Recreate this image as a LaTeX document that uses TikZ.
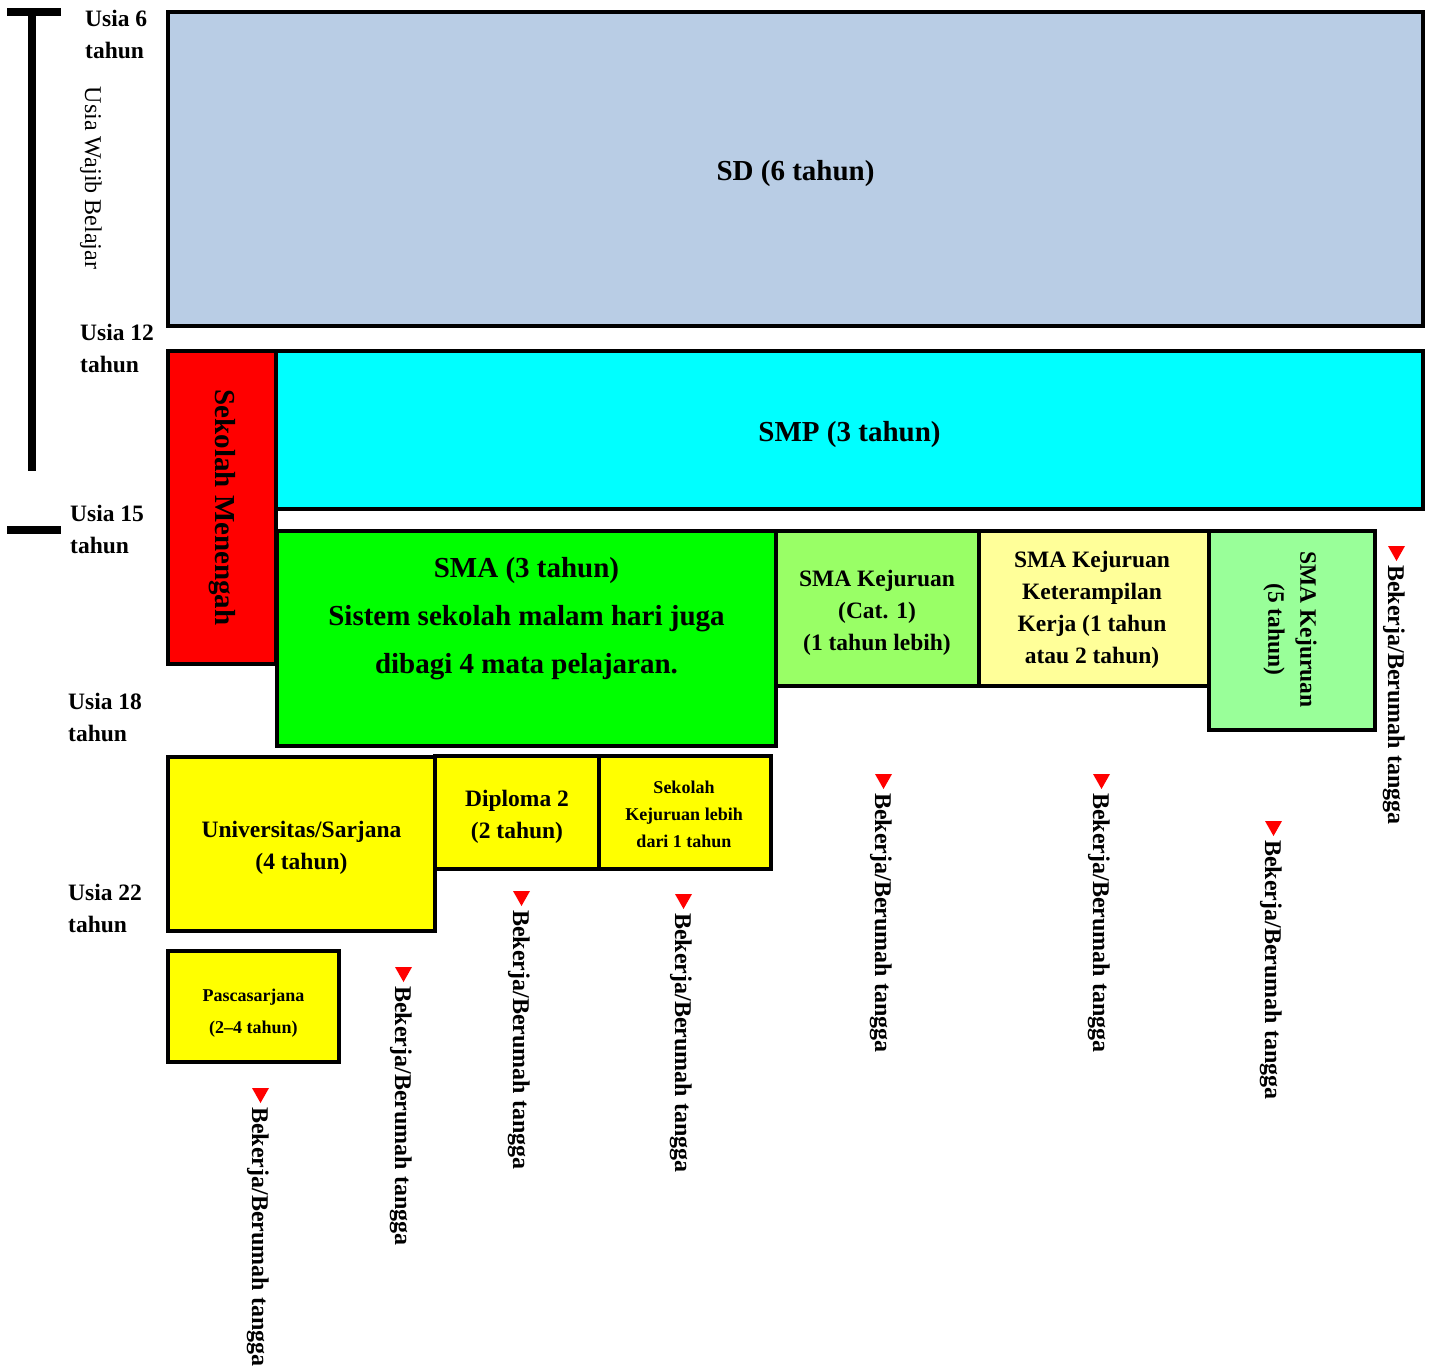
\documentclass[tikz,border=0pt]{standalone}
\usepackage{fontspec}
\setmainfont{Liberation Serif}
\usetikzlibrary{calc}
\definecolor{sdblue}{HTML}{B9CDE5}
\definecolor{smpcyan}{HTML}{00FFFF}
\definecolor{smared}{HTML}{FF0000}
\definecolor{smagreen}{HTML}{00FF00}
\definecolor{katgreen}{HTML}{99FF66}
\definecolor{ketyellow}{HTML}{FFFF99}
\definecolor{kejgreen}{HTML}{99FF99}
\definecolor{uniyellow}{HTML}{FFFF00}
\newcommand\fbig{\bfseries\fontsize{29}{48}\selectfont}
\newcommand\fmid{\bfseries\fontsize{23.5}{32}\selectfont}
\newcommand\fsmall{\bfseries\fontsize{18}{27}\selectfont}
\begin{document}
\begin{tikzpicture}[x=1pt,y=-1pt,
  box/.style={draw, line width=4pt, inner sep=0pt, outer sep=0pt, anchor=north west},
  txt/.style={inner sep=0pt, align=center},
  age/.style={inner sep=0pt, align=left, anchor=west, font=\fmid},
  work/.style={inner sep=0pt, rotate=-90, anchor=base west, font=\bfseries\fontsize{24}{28}\selectfont},
  bar/.style={line width=7.5pt}
]
\useasboundingbox (0,0) rectangle (1431,1367);

% age bar
\coordinate (t1a) at (7,12);
\coordinate (t1b) at (61,12);
\coordinate (vtop) at (32,12);
\coordinate (vbot) at (32,471);
\coordinate (t2a) at (7,530);
\coordinate (t2b) at (61,530);
\draw[bar] (t1a) -- (t1b);
\draw[bar] (vtop) -- (vbot);
\draw[bar] (t2a) -- (t2b);

\node[age] (u6) at (85,34) {Usia 6\\tahun};
\node[age] (u12) at (80,348) {Usia 12\\tahun};
\node[age] (u15) at (70,529) {Usia 15\\tahun};
\node[age] (u18) at (68,717) {Usia 18\\tahun};
\node[age] (u22) at (68,908) {Usia 22\\tahun};
\node[inner sep=0pt, rotate=-90, font=\fontsize{24}{28}\selectfont] (wajib) at (91,178) {Usia Wajib Belajar};

% boxes
\node[box, fill=sdblue, minimum width=1255pt, minimum height=314pt] (sd) at (168,12) {};
\node[txt, font=\fbig] (sdT) at ($(sd.center)+(0,5)$) {SD (6 tahun)};
\node[box, fill=smpcyan, minimum width=1147pt, minimum height=158pt] (smp) at (276,351) {};
\node[txt, font=\fbig] (smpT) at ($(smp.center)+(0,5)$) {SMP (3 tahun)};
\node[box, fill=smared, minimum width=108pt, minimum height=313pt] (sm) at (168,351) {};
\node[txt, rotate=-90, font=\fbig] (smT) at (sm.center) {Sekolah Menengah};

\node[box, fill=katgreen, minimum width=204pt, minimum height=155pt] (kat) at (775,531) {};
\node[txt, font=\fmid] (katT) at ($(kat.center)+(0,4)$) {SMA Kejuruan\\(Cat. 1)\\(1 tahun lebih)};
\node[box, fill=smagreen, minimum width=499pt, minimum height=215pt] (sma) at (277,531) {};
\node[txt, font=\fbig] (smaT) at ($(sma.center)+(0,-20)$) {SMA (3 tahun)\\Sistem sekolah malam hari juga\\dibagi 4 mata pelajaran.};
\node[box, fill=ketyellow, minimum width=230pt, minimum height=155pt] (ket) at (979,531) {};
\node[txt, font=\fmid] (ketT) at ($(ket.center)+(-2,1)$) {SMA Kejuruan\\Keterampilan\\Kerja (1 tahun\\atau 2 tahun)};
\node[box, fill=kejgreen, minimum width=166pt, minimum height=199pt] (kej) at (1209,531) {};
\node[txt, rotate=-90, font=\fmid] (kejT) at ($(kej.center)+(-2,-1)$) {SMA Kejuruan\\(5 tahun)};

\node[box, fill=uniyellow, minimum width=267pt, minimum height=174pt] (uni) at (168,757) {};
\node[txt, font=\fmid] (uniT) at ($(uni.center)+(0,4)$) {Universitas/Sarjana\\(4 tahun)};
\node[box, fill=uniyellow, minimum width=164pt, minimum height=113pt] (dip) at (435,756) {};
\node[txt, font=\fmid] (dipT) at ($(dip.center)+(0,4)$) {Diploma 2\\(2 tahun)};
\node[box, fill=uniyellow, minimum width=172pt, minimum height=113pt] (skl) at (599,756) {};
\node[txt, font=\fsmall] (sklT) at ($(skl.center)+(-1,2)$) {Sekolah\\Kejuruan lebih\\dari 1 tahun};
\node[box, fill=uniyellow, minimum width=171pt, minimum height=111pt] (pas) at (168,951) {};
\node[txt, font=\bfseries\fontsize{18}{32}\selectfont] (pasT) at ($(pas.center)+(0,7)$) {Pascasarjana\\(2--4 tahun)};

% work labels
\foreach \n/\x/\y in {w1/1388/565, w2/875/793, w3/1093/793, w4/1265/840, w5/513/910, w6/675/913, w7/395/986, w8/252/1107}{
  \node[work] (\n) at (\x,\y) {Bekerja/Berumah tangga};
  \fill[red] ($(\n.base west)+(8.5,-4)$) -- ++(-8.5,-15) -- ++(17,0) -- cycle;
}
\end{tikzpicture}
\end{document}
